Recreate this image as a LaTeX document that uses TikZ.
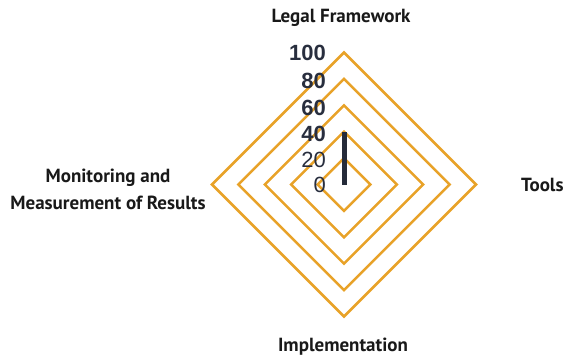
\documentclass[tikz,border=0pt]{standalone}
\usepackage{fontspec}
\usetikzlibrary{calc}
\setmainfont{PT Sans}
\newfontfamily\tickfont{Liberation Sans}
\definecolor{gridor}{RGB}{232,162,40}
\definecolor{darkbar}{RGB}{37,43,58}
\definecolor{ticktext}{RGB}{40,46,62}
\begin{document}
\begin{tikzpicture}[x=1pt,y=-1pt,
  axislabel/.style={font=\fontsize{19}{27}\selectfont\bfseries, text=black!90, inner sep=0pt, align=center},
  tickbold/.style={font=\tickfont\fontsize{22}{22}\selectfont\bfseries, text=ticktext, anchor=east, inner sep=0pt},
  tickreg/.style={font=\tickfont\fontsize{22}{22}\selectfont, text=ticktext, anchor=east, inner sep=0pt},
  ring/.style={draw=gridor, line width=2.5pt, line join=miter},
  series/.style={draw=darkbar, line width=5pt, line cap=butt}]
\useasboundingbox (0,0) rectangle (564,360);
\coordinate (c) at (344,184.5);
% rings
\foreach \k in {1,...,5}{
  \pgfmathsetmacro{\r}{26.4*\k}
  \draw[ring] ($(c)+(0,-\r)$) -- ($(c)+(\r,0)$) -- ($(c)+(0,\r)$) -- ($(c)+(-\r,0)$) -- cycle;
}
% tick labels
\node[tickbold] (t100) at (326,53) {100};
\node[tickbold] (t80) at (326,81) {80};
\node[tickbold] (t60) at (326,107.5) {60};
\node[tickbold] (t40) at (326,133.5) {40};
\node[tickreg] (t20) at (326,160) {20};
\node[tickreg] (t0) at (326,185) {0};
% data
\coordinate (d40) at (344,131.7);
\draw[series] (c) -- (d40);
% axis labels
\node[axislabel] (lf) at (341,18) {Legal Framework};
\node[axislabel, anchor=west] (tools) at (521,185) {Tools};
\node[axislabel] (impl) at (343,347) {Implementation};
\node[axislabel] (mon) at (108,189) {Monitoring and\\Measurement of Results};
\end{tikzpicture}
\end{document}
